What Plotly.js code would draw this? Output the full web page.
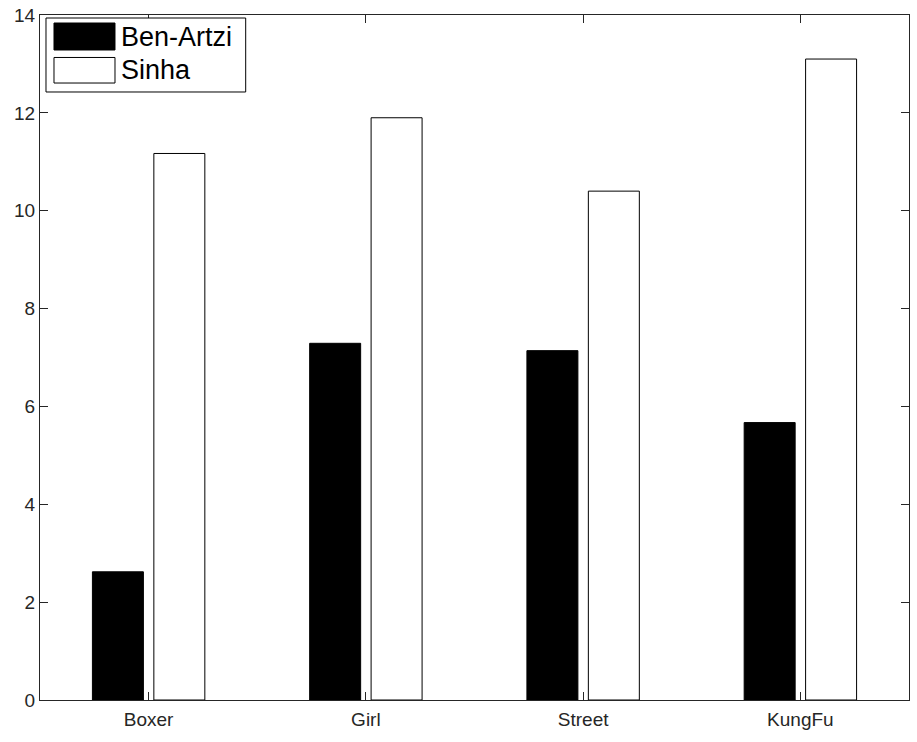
<!DOCTYPE html>
<html>
<head>
<meta charset="utf-8">
<script src="https://cdn.plot.ly/plotly-3.0.1.min.js"></script>
<style>html,body{margin:0;padding:0;background:#fff;}#chart{width:917px;height:742px;}</style>
</head>
<body>
<div id="chart"></div>
<script>
const categories = ["Boxer", "Girl", "Street", "KungFu"];
const seriesNames = ["Ben-Artzi", "Sinha"];
const benArtzi = [2.62, 7.29, 7.14, 5.67];
const sinha = [11.17, 11.90, 10.40, 13.10];
const yTicks = [0, 2, 4, 6, 8, 10, 12, 14];

const xIdx = categories.map((c, i) => i + 1);

const traces = [
  {type: "bar", name: seriesNames[0], x: xIdx, y: benArtzi,
   marker: {color: "#000000", line: {color: "#000000", width: 1}}},
  {type: "bar", name: seriesNames[1], x: xIdx, y: sinha,
   marker: {color: "#ffffff", line: {color: "#000000", width: 1}}}
];

const fontFam = "Liberation Sans, Arial, Helvetica, sans-serif";

// Legend drawn as a box with swatches (paper coordinates)
const L = {x0: 0.0069, x1: 0.2367, y0: 0.8876, y1: 0.9956};
const shapes = [
  {type: "rect", xref: "paper", yref: "paper", x0: L.x0, x1: L.x1, y0: L.y0, y1: L.y1,
   line: {color: "#000", width: 1}, fillcolor: "#fff", layer: "above"},
  {type: "rect", xref: "paper", yref: "paper", x0: 0.0161, x1: 0.0863, y0: 0.9489, y1: 0.9883,
   line: {color: "#000", width: 1}, fillcolor: "#000", layer: "above"},
  {type: "rect", xref: "paper", yref: "paper", x0: 0.0161, x1: 0.0863, y0: 0.9007, y1: 0.9380,
   line: {color: "#000", width: 1}, fillcolor: "#fff", layer: "above"}
];
const annotations = [
  {xref: "paper", yref: "paper", x: 0.0909, y: 0.9686, xanchor: "left", yanchor: "middle",
   text: seriesNames[0], showarrow: false, font: {family: fontFam, size: 27, color: "#000"}},
  {xref: "paper", yref: "paper", x: 0.0909, y: 0.9197, xanchor: "left", yanchor: "middle",
   text: seriesNames[1], showarrow: false, font: {family: fontFam, size: 27, color: "#000"}}
];

const layout = {
  width: 917, height: 742,
  margin: {l: 40, r: 8, t: 15, b: 42},
  paper_bgcolor: "#fff", plot_bgcolor: "#fff",
  showlegend: false,
  barmode: "group", bargap: 0.4345, bargroupgap: 0.17,
  font: {family: fontFam, size: 19, color: "#262626"},
  xaxis: {
    range: [0.5, 4.5], tickmode: "array", tickvals: xIdx, ticktext: categories,
    ticks: "inside", ticklen: 8, tickcolor: "#262626", tickwidth: 1,
    showline: true, linecolor: "#262626", linewidth: 1, mirror: "ticks",
    showgrid: false, zeroline: false, tickfont: {size: 19, color: "#262626"},
    ticklabelstandoff: 2
  },
  yaxis: {
    range: [0, 14], tickmode: "array", tickvals: yTicks,
    ticks: "inside", ticklen: 8, tickcolor: "#262626", tickwidth: 1,
    showline: true, linecolor: "#262626", linewidth: 1, mirror: "ticks",
    showgrid: false, zeroline: false, tickfont: {size: 19, color: "#262626"}
  },
  shapes: shapes,
  annotations: annotations
};

Plotly.newPlot("chart", traces, layout, {displayModeBar: false, staticPlot: true});
</script>
</body>
</html>
